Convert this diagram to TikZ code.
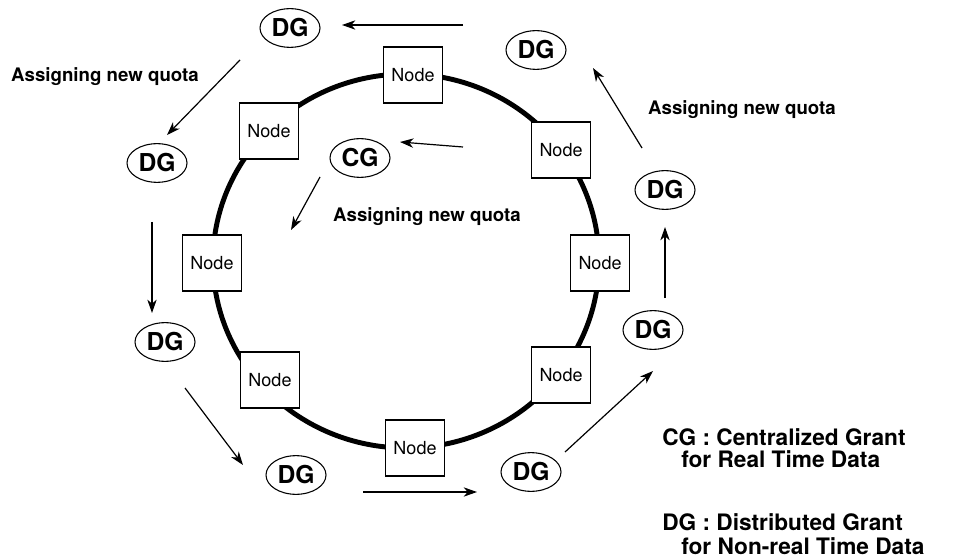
\documentclass[tikz,border=0pt]{standalone}
\usepackage{fontspec}
\setmainfont{TeX Gyre Heros}
\usetikzlibrary{arrows.meta,shapes.geometric}
\begin{document}
\begin{tikzpicture}[x=0.75pt,y=-0.75pt,
  ring/.style={line width=3.7pt},
  nodebox/.style={draw,fill=white,line width=0.8pt,minimum width=44pt,minimum height=42pt,inner sep=0pt,font=\fontsize{13.5}{16}\selectfont},
  grant/.style={draw,ellipse,fill=white,line width=0.8pt,minimum width=45pt,minimum height=29pt,inner sep=0pt,font=\bfseries\fontsize{18.5}{20}\selectfont},
  flow/.style={line width=0.9pt,-{Stealth[length=10pt,width=7pt,inset=3pt]}},
  lbl/.style={font=\bfseries\fontsize{14}{17}\selectfont},
  legend/.style={font=\bfseries\fontsize{17}{20}\selectfont,anchor=west,inner sep=0pt}]
\useasboundingbox (0,0) rectangle (962,559);
\coordinate (ctr) at (406,261);
\draw[ring] (ctr) ellipse [x radius=144.75pt, y radius=140.25pt];
% ring nodes
\node[nodebox] (n1) at (413,75) {Node};
\node[nodebox] (n2) at (269,131) {Node};
\node[nodebox] (n3) at (212,263) {Node};
\node[nodebox] (n4) at (270,380) {Node};
\node[nodebox] (n5) at (415,448) {Node};
\node[nodebox] (n6) at (561,375) {Node};
\node[nodebox] (n7) at (600,263) {Node};
\node[nodebox] (n8) at (561,150) {Node};
% grants
\node[grant] (dgtop) at (290,28) {DG};
\node[grant] (dgtr) at (536,50) {DG};
\node[grant] (dgul) at (157,163) {DG};
\node[grant] (dgl) at (165,342) {DG};
\node[grant] (dgbl) at (296,475) {DG};
\node[grant] (dgbr) at (531,472) {DG};
\node[grant] (dgrl) at (653,330) {DG};
\node[grant] (dgru) at (665,190) {DG};
\node[grant] (cg) at (360,158) {CG};
% arrow end points
\coordinate (a1s) at (463,25);  \coordinate (a1e) at (342,25);
\coordinate (a2s) at (240,60);  \coordinate (a2e) at (167,135);
\coordinate (a3s) at (152,222); \coordinate (a3e) at (152,313);
\coordinate (a4s) at (185,388); \coordinate (a4e) at (243,465);
\coordinate (a5s) at (363,492); \coordinate (a5e) at (477,492);
\coordinate (a6s) at (565,452); \coordinate (a6e) at (653,371);
\coordinate (a7s) at (665,298); \coordinate (a7e) at (665,227);
\coordinate (a8s) at (642,148); \coordinate (a8e) at (593,68);
\coordinate (a9s) at (463,147); \coordinate (a9e) at (400,142);
\coordinate (a10s) at (320,177); \coordinate (a10e) at (291,230);
\draw[flow] (a1s) -- (a1e);
\draw[flow] (a2s) -- (a2e);
\draw[flow] (a3s) -- (a3e);
\draw[flow] (a4s) -- (a4e);
\draw[flow] (a5s) -- (a5e);
\draw[flow] (a6s) -- (a6e);
\draw[flow] (a7s) -- (a7e);
\draw[flow] (a8s) -- (a8e);
\draw[flow] (a9s) -- (a9e);
\draw[flow] (a10s) -- (a10e);
% labels
\node[lbl] (q1) at (105,77) {Assigning new quota};
\node[lbl] (q2) at (742,110) {Assigning new quota};
\node[lbl] (q3) at (427,217) {Assigning new quota};
% legend
\node[legend] (l1) at (662,437) {CG : Centralized Grant};
\node[legend] (l2) at (681,459) {for Real Time Data};
\node[legend] (l3) at (662,522) {DG : Distributed Grant};
\node[legend] (l4) at (681,546) {for Non-real Time Data};
\end{tikzpicture}
\end{document}
